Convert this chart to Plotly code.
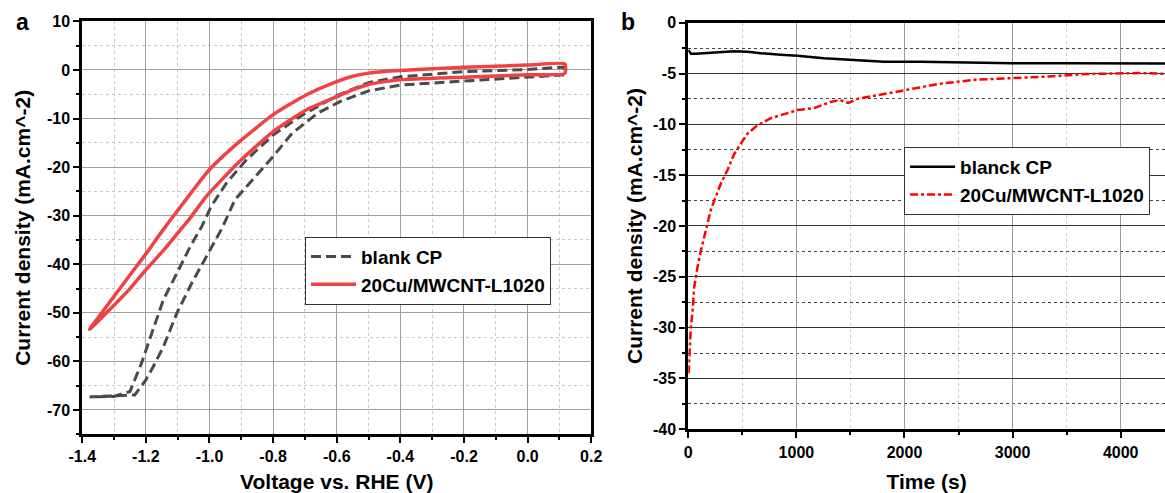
import plotly.graph_objects as go

# ---------------- Panel a : CV curves ----------------
blank_v = [0.115, 0.0, -0.2, -0.4, -0.5, -0.59, -0.66, -0.74, -0.8, -0.86, -0.92, -0.96, -1.01,
           -1.056, -1.103, -1.145, -1.177, -1.2, -1.235, -1.28, -1.33, -1.377,
           -1.3, -1.25, -1.214, -1.182, -1.145, -1.103, -1.061, -1.024, -0.995, -0.947, -0.884,
           -0.8, -0.716, -0.6, -0.5, -0.4, -0.2, 0.0, 0.115, 0.115]
blank_j = [-1.0, -1.5, -2.3, -3.1, -4.3, -6.5, -8.9, -13.0, -17.8, -22.3, -26.7, -32.5, -38.4,
           -43.9, -50.1, -57.0, -61.1, -63.8, -66.9, -67.0, -67.2, -67.3,
           -67.2, -66.2, -60.4, -54.2, -47.3, -41.9, -36.4, -32.2, -28.1, -23.3, -18.5,
           -13.4, -9.6, -5.3, -2.6, -1.4, -0.35, 0.1, 0.6, -1.0]

cu_v = [-1.377, -1.324, -1.25, -1.198, -1.158, -1.124, -1.095, -1.0, -0.905, -0.8, -0.695, -0.6,
        -0.55, -0.5, -0.45, -0.4, -0.2, 0.0, 0.117,
        0.117, 0.0, -0.2, -0.4, -0.45, -0.5, -0.55, -0.6, -0.695, -0.8, -0.905, -1.01, -1.061,
        -1.1, -1.135, -1.198, -1.25, -1.324, -1.377]
cu_j = [-53.4, -48.7, -42.2, -37.7, -34.0, -31.0, -28.5, -20.5, -14.7, -9.2, -5.1, -2.4,
        -1.3, -0.65, -0.3, -0.1, 0.55, 1.0, 1.25,
        -0.7, -1.0, -1.5, -2.0, -2.4, -3.0, -4.1, -5.5, -8.2, -12.7, -18.8, -26.0, -30.5,
        -33.6, -36.4, -41.0, -45.0, -50.0, -53.4]

a_xticks = [-1.4, -1.2, -1.0, -0.8, -0.6, -0.4, -0.2, 0.0, 0.2]
a_xlabels = ["-1.4", "-1.2", "-1.0", "-0.8", "-0.6", "-0.4", "-0.2", "0.0", "0.2"]
a_yticks = [10, 0, -10, -20, -30, -40, -50, -60, -70]
a_ylabels = ["10", "0", "-10", "-20", "-30", "-40", "-50", "-60", "-70"]

# ---------------- Panel b : chronoamperometry ----------------
blank_t = [0, 25, 70, 150, 240, 425, 550, 670, 855, 1010, 1255, 1530, 1810, 2150, 2500,
           3000, 3500, 4000, 4450]
blank_i = [-2.7, -3.05, -3.05, -3.0, -2.9, -2.8, -2.85, -3.0, -3.15, -3.25, -3.5, -3.67, -3.84,
           -3.85, -3.92, -4.0, -4.0, -4.02, -4.02]

cu_t = [3, 12, 22, 40, 55, 86, 117, 163, 209, 255, 302, 363, 425, 486, 548, 640, 763, 855,
        1009, 1163, 1317, 1400, 1480, 1563, 1779, 2025, 2333, 2667, 3000, 3333, 3667, 4000,
        4200, 4450]
cu_i = [-34.5, -32.5, -30.2, -28.3, -26.0, -24.0, -22.4, -20.4, -18.4, -17.1, -15.8, -14.5,
        -12.9, -11.9, -10.9, -10.1, -9.4, -9.1, -8.6, -8.4, -7.8, -7.6, -7.9, -7.5, -7.1,
        -6.6, -6.0, -5.6, -5.45, -5.3, -5.05, -4.95, -4.95, -5.05]

b_xticks = [0, 1000, 2000, 3000, 4000]
b_xlabels = ["0", "1000", "2000", "3000", "4000"]
b_yticks = [0, -5, -10, -15, -20, -25, -30, -35, -40]
b_ylabels = ["0", "-5", "-10", "-15", "-20", "-25", "-30", "-35", "-40"]

FONT = "Liberation Sans, Arial, sans-serif"

fig = go.Figure()
fig.add_trace(go.Scatter(x=blank_v, y=blank_j, mode="lines", name="blank CP",
                         line=dict(color="#4a4a4a", width=3, dash="10px,5px"),
                         xaxis="x", yaxis="y", legend="legend"))
fig.add_trace(go.Scatter(x=cu_v, y=cu_j, mode="lines", name="20Cu/MWCNT-L1020",
                         line=dict(color="#f04242", width=3.5, shape="spline", smoothing=0.5),
                         xaxis="x", yaxis="y", legend="legend"))
fig.add_trace(go.Scatter(x=blank_t, y=blank_i, mode="lines", name="blanck CP",
                         line=dict(color="black", width=2.5),
                         xaxis="x2", yaxis="y2", legend="legend2"))
fig.add_trace(go.Scatter(x=cu_t, y=cu_i, mode="lines", name="20Cu/MWCNT-L1020",
                         line=dict(color="#ff0000", width=2.5, dash="8px,3px,3px,3px"),
                         xaxis="x2", yaxis="y2", legend="legend2"))

tickfont = dict(family=FONT, size=16, color="black", weight="bold")
titlefont = dict(family=FONT, size=21, color="black", weight="bold")
legfont = dict(family=FONT, size=19, color="black", weight="bold")

common = dict(showline=True, linecolor="black", linewidth=3, mirror=True,
              ticks="outside", ticklen=6, tickwidth=2, tickcolor="black",
              tickfont=tickfont, zeroline=False, showgrid=True, automargin=False)

fig.update_layout(
    width=1165, height=493,
    margin=dict(l=0, r=0, t=0, b=0, autoexpand=False),
    paper_bgcolor="white", plot_bgcolor="white",
    showlegend=True,
    xaxis=dict(domain=[0.0706, 0.5075], range=[-1.4, 0.2], tickmode="array",
               tickvals=a_xticks, ticktext=a_xlabels, gridcolor="#a0a0a0", gridwidth=1,
               minor=dict(tickmode="linear", tick0=-1.4, dtick=0.1, ticks="outside", ticklen=3,
                          tickwidth=2, tickcolor="black", showgrid=True,
                          gridcolor="#c8c8c8", griddash="dot", gridwidth=1),
               title=dict(text="Voltage vs. RHE (V)", font=titlefont, standoff=14),
               anchor="y", **common),
    yaxis=dict(domain=[0.1191, 0.9566], range=[-75, 10], tickmode="array",
               tickvals=a_yticks, ticktext=a_ylabels, gridcolor="#a0a0a0", gridwidth=1,
               minor=dict(tickmode="linear", tick0=0, dtick=5, ticks="outside", ticklen=3,
                          tickwidth=2, tickcolor="black", showgrid=True,
                          gridcolor="#c8c8c8", griddash="dot", gridwidth=1),
               title=dict(text="Current density (mA.cm^-2)", font=titlefont, standoff=11),
               anchor="x", **common),
    xaxis2=dict(domain=[0.5908, 1.0], range=[0, 4410], tickmode="array",
                tickvals=b_xticks, ticktext=b_xlabels, gridcolor="#9a9a9a", gridwidth=1,
                minor=dict(tickmode="linear", tick0=0, dtick=500, ticks="outside", ticklen=3,
                           tickwidth=2, tickcolor="black", showgrid=True,
                           gridcolor="#cccccc", griddash="dot", gridwidth=1),
                title=dict(text="Time (s)", font=titlefont, standoff=17),
                anchor="y2", **common),
    yaxis2=dict(domain=[0.1292, 0.9540], range=[-40, 0], tickmode="array",
                tickvals=b_yticks, ticktext=b_ylabels, gridcolor="#333333", gridwidth=1,
                minor=dict(tickmode="linear", tick0=0, dtick=2.5, ticks="outside", ticklen=3,
                           tickwidth=2, tickcolor="black", showgrid=True,
                           gridcolor="#444444", griddash="dot", gridwidth=1),
                title=dict(text="Current density (mA.cm^-2)", font=titlefont, standoff=5),
                anchor="x2",
                **{k: v for k, v in common.items() if k != "mirror"}, mirror=False),
    legend=dict(x=0.2618, y=0.5200, xanchor="left", yanchor="top",
                bgcolor="white", bordercolor="#333333", borderwidth=1,
                font=legfont, itemwidth=45, tracegroupgap=0),
    legend2=dict(x=0.776, y=0.702, xanchor="left", yanchor="top",
                 bgcolor="white", bordercolor="#333333", borderwidth=1,
                 font=legfont, itemwidth=45, tracegroupgap=0),
    annotations=[
        dict(text="a", x=22 / 1165, y=1 - 22 / 493, xref="paper", yref="paper",
             xanchor="center", yanchor="middle", showarrow=False,
             font=dict(family=FONT, size=23, color="black", weight="bold")),
        dict(text="b", x=628 / 1165, y=1 - 22 / 493, xref="paper", yref="paper",
             xanchor="center", yanchor="middle", showarrow=False,
             font=dict(family=FONT, size=23, color="black", weight="bold")),
    ],
)

fig.write_html("out.html")
